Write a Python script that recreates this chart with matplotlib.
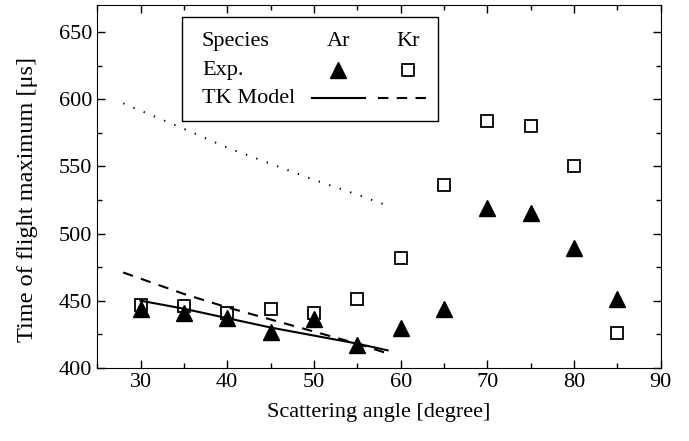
import matplotlib
matplotlib.use("Agg")
import matplotlib.pyplot as plt
from matplotlib.patches import Rectangle
from matplotlib.ticker import MultipleLocator

plt.rcParams["font.family"] = ["Liberation Serif", "DejaVu Serif"]

# experimental points
angles = [30, 35, 40, 45, 50, 55, 60, 65, 70, 75, 80, 85]
ar_exp = [444, 441, 437, 427, 436, 417, 430, 444, 519, 515, 489, 451]
kr_exp = [447, 446, 441, 444, 441, 451, 482, 536, 584, 580, 550, 426]

# TK model curves
ar_model_x = [30, 35, 40, 45, 50, 55, 58.5]
ar_model_y = [450, 444, 437, 430, 424, 418, 413]
kr_model_x = [28, 35, 40, 45, 50, 55, 58.8]
kr_model_y = [471, 455, 445, 436, 427, 418, 410]
dot_x = [28, 35, 40, 45, 50, 55, 58.8]
dot_y = [597, 578, 564, 552, 540, 529, 520]

fig = plt.figure(figsize=(6.89, 4.41), dpi=100)
ax = fig.add_axes([0.141, 0.166, 0.818, 0.822])

ax.plot(ar_model_x, ar_model_y, color="black", lw=1.5)
ax.plot(kr_model_x, kr_model_y, color="black", lw=1.5, ls=(0, (5, 4)))
ax.plot(dot_x, dot_y, color="black", lw=1.4, ls=(0, (0.7, 5)))
ax.plot(angles, ar_exp, ls="none", marker="^", ms=11, color="black")
ax.plot(angles, kr_exp, ls="none", marker="s", ms=9, mfc="none", mec="black", mew=1.3)

ax.set_xlim(25, 90)
ax.set_ylim(400, 670)
ax.xaxis.set_major_locator(MultipleLocator(10))
ax.xaxis.set_minor_locator(MultipleLocator(5))
ax.yaxis.set_major_locator(MultipleLocator(50))
ax.yaxis.set_minor_locator(MultipleLocator(25))
ax.tick_params(which="both", direction="in", top=True, right=True, labelsize=16)
ax.tick_params(which="major", length=6, width=1)
ax.tick_params(which="minor", length=3.5, width=1)
ax.set_xlabel("Scattering angle [degree]", fontsize=16, labelpad=8)
ax.set_ylabel("Time of flight maximum [μs]", fontsize=17.5)
ax.yaxis.set_label_coords(-0.105, 0.465)

# hand-built legend table
tr = ax.transAxes
ax.add_patch(Rectangle((0.151, 0.682), 0.454, 0.286, transform=tr,
                       fill=False, ec="black", lw=1, zorder=5))
fs = 16
ax.text(0.186, 0.899, "Species", transform=tr, fontsize=fs, va="center")
ax.text(0.428, 0.899, "Ar", transform=tr, fontsize=fs, va="center", ha="center")
ax.text(0.552, 0.899, "Kr", transform=tr, fontsize=fs, va="center", ha="center")
ax.text(0.186, 0.820, "Exp.", transform=tr, fontsize=fs, va="center")
ax.text(0.186, 0.743, "TK Model", transform=tr, fontsize=fs, va="center")
ax.plot([0.428], [0.822], transform=tr, marker="^", ms=11, color="black")
ax.plot([0.552], [0.822], transform=tr, marker="s", ms=9, mfc="none", mec="black", mew=1.3)
ax.plot([0.381, 0.475], [0.743, 0.743], transform=tr, color="black", lw=1.5)
ax.plot([0.498, 0.584], [0.743, 0.743], transform=tr, color="black", lw=1.5, ls=(0, (5, 4)))

fig.savefig("out.png", dpi=100)
